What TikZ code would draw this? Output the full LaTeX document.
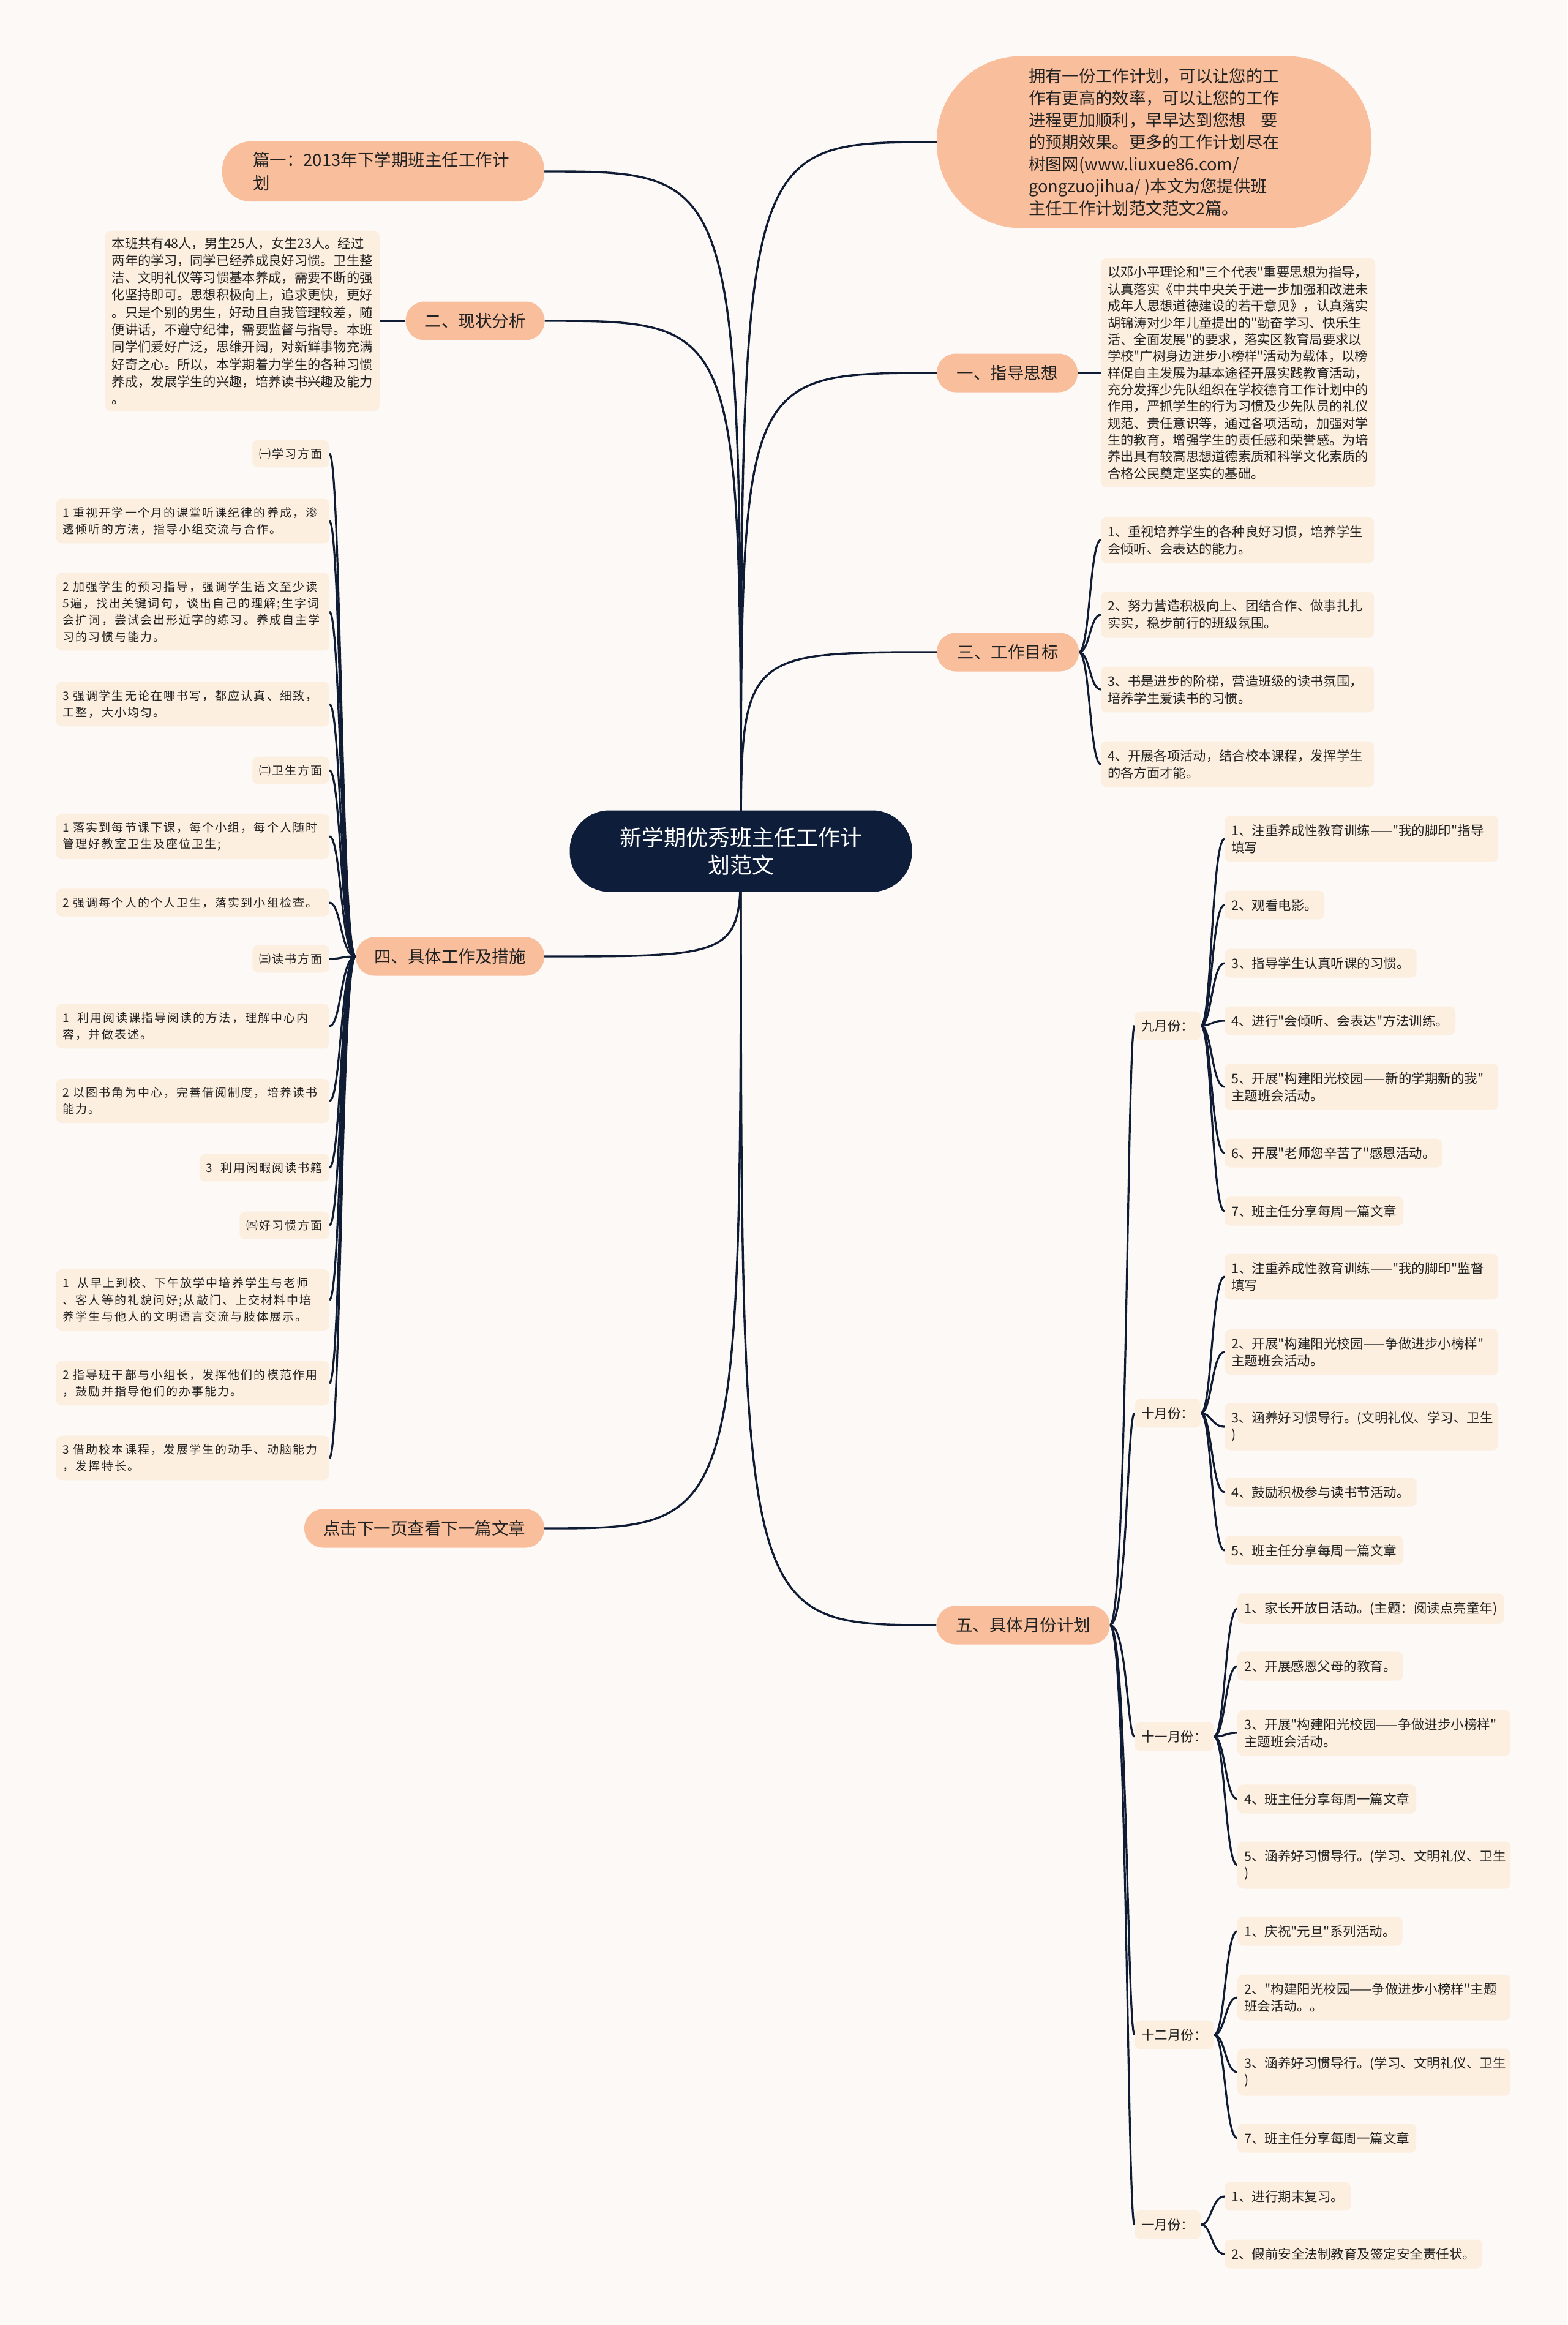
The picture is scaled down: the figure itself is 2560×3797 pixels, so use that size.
\documentclass[tikz,border=0pt]{standalone}
\usepackage{fontspec}
\newfontfamily\cjkfont{Noto Sans CJK SC}
\newfontfamily\spacedcjk[LetterSpace=11]{Noto Sans CJK SC}
\usetikzlibrary{calc}
\pgfdeclarelayer{bglayer}
\pgfdeclarelayer{linelayer}
\pgfsetlayers{bglayer,linelayer,main}
\definecolor{bgc}{HTML}{FCF9F7}
\definecolor{mainc}{HTML}{F9BE9C}
\definecolor{leafc}{HTML}{FDEFE0}
\definecolor{linec}{HTML}{101C34}
\definecolor{rootc}{HTML}{0E1E3A}
\definecolor{txtc}{HTML}{222222}
\newcommand\bconn[3]{\draw[conn] (#1) .. controls (#1 -| #3) and (#2 -| #3) .. (#2);}
\newcommand\rconn[1]{\draw[rootconn] (root.center) .. controls (root.center |- #1) and (root.center |- #1) .. (#1);}
\begin{document}
\cjkfont
\begin{tikzpicture}[x=1pt,y=-1pt,
  conn/.style={draw=linec,line width=3.2pt},
  rootconn/.style={draw=linec,line width=3.4pt},
  leaf/.style={fill=leafc,rounded corners=9pt,inner xsep=11pt,inner ysep=13.5pt,align=left,text=txtc,font=\cjkfont\fontsize{21.5pt}{27.5pt}\selectfont},
  lleaf/.style={leaf,font=\spacedcjk\fontsize{19pt}{27.4pt}\selectfont},
  mainb/.style={fill=mainc,rounded corners=31pt,minimum height=63pt,inner xsep=0pt,inner ysep=0pt,text=txtc,align=center,font=\cjkfont\fontsize{27.5pt}{34pt}\selectfont}]
\useasboundingbox (0,0) rectangle (2560,3797);
\begin{pgfonlayer}{bglayer}
\fill[bgc] (0,0) rectangle (2560,3797);
\end{pgfonlayer}

% trunk coordinates
\coordinate (T4) at (557,0);
\coordinate (T3) at (1780,0);
\coordinate (T5) at (1841,0);
\coordinate (T9) at (1979,0);
\coordinate (T11) at (2001,0);

% root
\node[fill=rootc,text=white,rounded corners=65pt,minimum width=559pt,minimum height=133pt,align=center,font=\cjkfont\fontsize{36pt}{45pt}\selectfont] (root) at (1210,1390) {新学期优秀班主任工作计\\划范文};

% left main branches
\node[mainb,text width=426pt,align=left,inner xsep=50pt,minimum height=98pt,rounded corners=46pt,font=\cjkfont\fontsize{27.5pt}{38pt}\selectfont] (p1) at (626,280) {篇一：2013年下学期班主任工作计\\划};
\node[mainb,minimum width=227pt] (p2) at (776,524) {二、现状分析};
\node[mainb,minimum width=308pt] (p4) at (735,1562) {四、具体工作及措施};
\node[mainb,minimum width=392pt] (p6) at (693,2496) {点击下一页查看下一篇文章};

% right main branches
\node[mainb,minimum width=710pt,minimum height=281pt,rounded corners=138pt,align=left,font=\cjkfont\fontsize{27.3pt}{36pt}\selectfont] (intro) at (1885,232) {拥有一份工作计划，可以让您的工\\作有更高的效率，可以让您的工作\\进程更加顺利，早早达到您想\hspace{0.9em}要\\的预期效果。更多的工作计划尽在\\树图网(www.liuxue86.com/\\gongzuojihua/ )本文为您提供班\\主任工作计划范文范文2篇。};
\node[mainb,minimum width=230pt] (r1) at (1645,609) {一、指导思想};
\node[mainb,minimum width=232pt] (r3) at (1646,1065) {三、工作目标};
\node[mainb,minimum width=283pt] (r5) at (1671,2654) {五、具体月份计划};

% text boxes
\node[leaf,anchor=east,inner ysep=10pt,font=\cjkfont\fontsize{21.3pt}{28.3pt}\selectfont] (b2) at (620,524) {本班共有48人，男生25人，女生23人。经过\\两年的学习，同学已经养成良好习惯。卫生整\\洁、文明礼仪等习惯基本养成，需要不断的强\\化坚持即可。思想积极向上，追求更快，更好\\。只是个别的男生，好动且自我管理较差，随\\便讲话，不遵守纪律，需要监督与指导。本班\\同学们爱好广泛，思维开阔，对新鲜事物充满\\好奇之心。所以，本学期着力学生的各种习惯\\养成，发展学生的兴趣，培养读书兴趣及能力\\。};
\node[leaf,anchor=west,inner ysep=13pt,font=\cjkfont\fontsize{21.3pt}{27.35pt}\selectfont] (b1) at (1798,609) {以邓小平理论和"三个代表"重要思想为指导，\\认真落实《中共中央关于进一步加强和改进未\\成年人思想道德建设的若干意见》，认真落实\\胡锦涛对少年儿童提出的"勤奋学习、快乐生\\活、全面发展"的要求，落实区教育局要求以\\学校"广树身边进步小榜样"活动为载体，以榜\\样促自主发展为基本途径开展实践教育活动，\\充分发挥少先队组织在学校德育工作计划中的\\作用，严抓学生的行为习惯及少先队员的礼仪\\规范、责任意识等，通过各项活动，加强对学\\生的教育，增强学生的责任感和荣誉感。为培\\养出具有较高思想道德素质和科学文化素质的\\合格公民奠定坚实的基础。};

% work goals
\node[leaf,anchor=west,text width=424pt,font=\cjkfont\fontsize{21.3pt}{28pt}\selectfont] (g1) at (1798,882) {1、重视培养学生的各种良好习惯，培养学生\\会倾听、会表达的能力。};
\node[leaf,anchor=west,text width=424pt,font=\cjkfont\fontsize{21.3pt}{28pt}\selectfont] (g2) at (1798,1004) {2、努力营造积极向上、团结合作、做事扎扎\\实实，稳步前行的班级氛围。};
\node[leaf,anchor=west,text width=424pt,font=\cjkfont\fontsize{21.3pt}{28pt}\selectfont] (g3) at (1798,1126) {3、书是进步的阶梯，营造班级的读书氛围，\\培养学生爱读书的习惯。};
\node[leaf,anchor=west,text width=424pt,font=\cjkfont\fontsize{21.3pt}{28pt}\selectfont] (g4) at (1798,1248) {4、开展各项活动，结合校本课程，发挥学生\\的各方面才能。};

% left column (section 4)
\node[lleaf,anchor=east] (l1) at (538,741) {㈠学习方面};
\node[lleaf,anchor=east,text width=424pt] (l2) at (538,851) {1~重视开学一个月的课堂听课纪律的养成，渗\\透倾听的方法，指导小组交流与合作。};
\node[lleaf,anchor=east,text width=424pt] (l3) at (538,999) {2~加强学生的预习指导，强调学生语文至少读\\5遍，找出关键词句，谈出自己的理解;生字词\\会扩词，尝试会出形近字的练习。养成自主学\\习的习惯与能力。};
\node[lleaf,anchor=east,text width=424pt] (l4) at (538,1150) {3~强调学生无论在哪书写，都应认真、细致，\\工整，大小均匀。};
\node[lleaf,anchor=east] (l5) at (538,1258) {㈡卫生方面};
\node[lleaf,anchor=east,text width=424pt] (l6) at (538,1366) {1~落实到每节课下课，每个小组，每个人随时\\管理好教室卫生及座位卫生;};
\node[lleaf,anchor=east,text width=424pt] (l7) at (538,1474) {2~强调每个人的个人卫生，落实到小组检查。};
\node[lleaf,anchor=east] (l8) at (538,1566) {㈢读书方面};
\node[lleaf,anchor=east,text width=424pt] (l9) at (538,1676) {1~~利用阅读课指导阅读的方法，理解中心内\\容，并做表述。};
\node[lleaf,anchor=east,text width=424pt] (l10) at (538,1798) {2~以图书角为中心，完善借阅制度，培养读书\\能力。};
\node[lleaf,anchor=east] (l11) at (538,1907) {3~~利用闲暇阅读书籍};
\node[lleaf,anchor=east] (l12) at (538,2001) {㈣好习惯方面};
\node[lleaf,anchor=east,text width=424pt] (l13) at (538,2123) {1~~从早上到校、下午放学中培养学生与老师\\、客人等的礼貌问好;从敲门、上交材料中培\\养学生与他人的文明语言交流与肢体展示。};
\node[lleaf,anchor=east,text width=424pt] (l14) at (538,2259) {2~指导班干部与小组长，发挥他们的模范作用\\，鼓励并指导他们的办事能力。};
\node[lleaf,anchor=east,text width=424pt] (l15) at (538,2381) {3~借助校本课程，发展学生的动手、动脑能力\\，发挥特长。};

% months
\node[leaf,anchor=west] (m9) at (1853,1675) {九月份：};
\node[leaf,anchor=west] (m10) at (1853,2308) {十月份：};
\node[leaf,anchor=west] (m11) at (1853,2836) {十一月份：};
\node[leaf,anchor=west] (m12) at (1853,3323) {十二月份：};
\node[leaf,anchor=west] (m1) at (1853,3633) {一月份：};

% September
\node[leaf,anchor=west,text width=425pt] (a1) at (2000,1370) {1、注重养成性教育训练——"我的脚印"指导\\填写};
\node[leaf,anchor=west] (a2) at (2000,1478) {2、观看电影。};
\node[leaf,anchor=west] (a3) at (2000,1573) {3、指导学生认真听课的习惯。};
\node[leaf,anchor=west] (a4) at (2000,1667) {4、进行"会倾听、会表达"方法训练。};
\node[leaf,anchor=west,text width=425pt] (a5) at (2000,1775) {5、开展"构建阳光校园——新的学期新的我"\\主题班会活动。};
\node[leaf,anchor=west] (a6) at (2000,1883) {6、开展"老师您辛苦了"感恩活动。};
\node[leaf,anchor=west] (a7) at (2000,1978) {7、班主任分享每周一篇文章};

% October
\node[leaf,anchor=west,text width=425pt] (c1) at (2000,2085) {1、注重养成性教育训练——"我的脚印"监督\\填写};
\node[leaf,anchor=west,text width=425pt] (c2) at (2000,2208) {2、开展"构建阳光校园——争做进步小榜样"\\主题班会活动。};
\node[leaf,anchor=west,text width=425pt] (c3) at (2000,2330) {3、涵养好习惯导行。(文明礼仪、学习、卫生\\)};
\node[leaf,anchor=west] (c4) at (2000,2437) {4、鼓励积极参与读书节活动。};
\node[leaf,anchor=west] (c5) at (2000,2532) {5、班主任分享每周一篇文章};

% November
\node[leaf,anchor=west] (d1) at (2021,2627) {1、家长开放日活动。(主题：阅读点亮童年)};
\node[leaf,anchor=west] (d2) at (2021,2721) {2、开展感恩父母的教育。};
\node[leaf,anchor=west,text width=424pt] (d3) at (2021,2830) {3、开展"构建阳光校园——争做进步小榜样"\\主题班会活动。};
\node[leaf,anchor=west] (d4) at (2021,2938) {4、班主任分享每周一篇文章};
\node[leaf,anchor=west,text width=424pt] (d5) at (2021,3046) {5、涵养好习惯导行。(学习、文明礼仪、卫生\\)};

% December
\node[leaf,anchor=west] (e1) at (2021,3154) {1、庆祝"元旦"系列活动。};
\node[leaf,anchor=west,text width=424pt] (e2) at (2021,3262) {2、"构建阳光校园——争做进步小榜样"主题\\班会活动。。};
\node[leaf,anchor=west,text width=424pt] (e3) at (2021,3384) {3、涵养好习惯导行。(学习、文明礼仪、卫生\\)};
\node[leaf,anchor=west] (e4) at (2021,3492) {7、班主任分享每周一篇文章};

% January
\node[leaf,anchor=west] (f1) at (2000,3587) {1、进行期末复习。};
\node[leaf,anchor=west] (f2) at (2000,3681) {2、假前安全法制教育及签定安全责任状。};

\begin{pgfonlayer}{linelayer}
\rconn{p1.east}
\rconn{p2.east}
\rconn{p4.east}
\rconn{p6.east}
\rconn{intro.west}
\rconn{r1.west}
\rconn{r3.west}
\rconn{r5.west}
\draw[conn] (p2.west) -- (b2.east);
\draw[conn] (r1.east) -- (b1.west);
\foreach \g in {g1,g2,g3,g4} {\bconn{r3.east}{\g.west}{T3}}
\foreach \l in {l1,l2,l3,l4,l5,l6,l7,l8,l9,l10,l11,l12,l13,l14,l15} {\bconn{p4.west}{\l.east}{T4}}
\foreach \m in {m9,m10,m11,m12,m1} {\bconn{r5.east}{\m.west}{T5}}
\foreach \a in {a1,a2,a3,a4,a5,a6,a7} {\bconn{m9.east}{\a.west}{T9}}
\foreach \a in {c1,c2,c3,c4,c5} {\bconn{m10.east}{\a.west}{T9}}
\foreach \a in {d1,d2,d3,d4,d5} {\bconn{m11.east}{\a.west}{T11}}
\foreach \a in {e1,e2,e3,e4} {\bconn{m12.east}{\a.west}{T11}}
\foreach \a in {f1,f2} {\bconn{m1.east}{\a.west}{T9}}
\end{pgfonlayer}
\end{tikzpicture}
\end{document}
